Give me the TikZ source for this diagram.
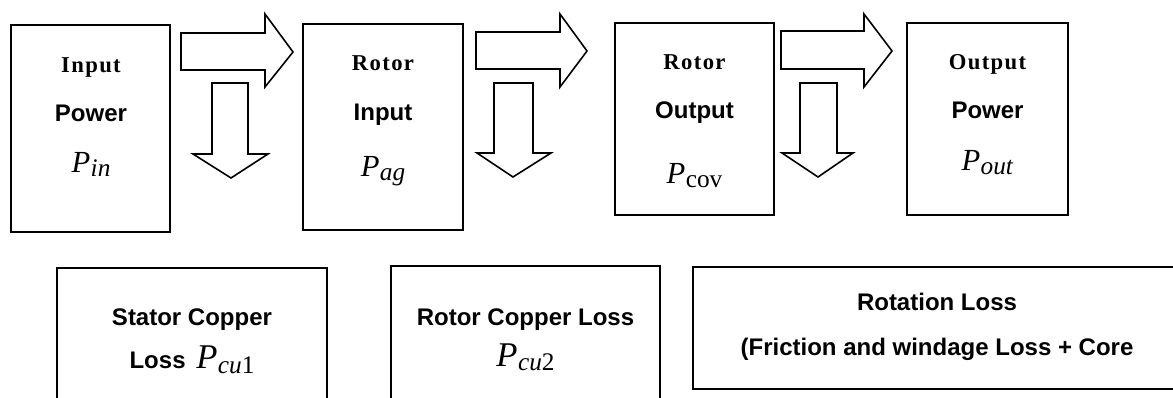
\documentclass[tikz,border=0pt]{standalone}
\usepackage{fontspec}
\setmainfont{Liberation Serif}
\newfontfamily\arialfont{Liberation Sans}
\newfontfamily\serifspaced[LetterSpace=6]{Liberation Serif}
\newlength\pxu
\setlength\pxu{0.75pt}
\newcommand\PP[1]{{\fontsize{23}{25}\selectfont\textit{P}}\kern0.3pt\raisebox{-0.3em}{\fontsize{19}{19}\selectfont #1}}
\newcommand\PPb[1]{{\fontsize{26}{28}\selectfont\textit{P}}\kern0.3pt\raisebox{-0.3em}{\fontsize{19}{19}\selectfont #1}}
\tikzset{
  box/.style={draw, line width=1.3pt, inner sep=0pt, rectangle},
  blockarrow/.style={draw, line width=1.2pt, fill=white, line join=miter},
  serifbold/.style={font=\serifspaced\fontsize{17}{20}\selectfont\bfseries, anchor=base, inner sep=0pt},
  sansbold/.style={font=\arialfont\fontsize{18}{21}\selectfont\bfseries, anchor=base, inner sep=0pt},
  mathlbl/.style={anchor=base, inner sep=0pt},
}
\begin{document}
\begin{tikzpicture}[x=0.75pt, y=-0.75pt]
\useasboundingbox (0,0) rectangle (1173,398);
\fill[white] (0,0) rectangle (1173,398);
% top boxes
\node[box, minimum width=159*\pxu, minimum height=207*\pxu] (b1) at (90.5,128.5) {};
\node[box, minimum width=160*\pxu, minimum height=206*\pxu] (b2) at (383,127) {};
\node[box, minimum width=159*\pxu, minimum height=192*\pxu] (b3) at (694.5,119) {};
\node[box, minimum width=161*\pxu, minimum height=192*\pxu] (b4) at (987.5,119) {};
% bottom boxes
\node[box, minimum width=270*\pxu, minimum height=160*\pxu] (b5) at (192,348) {};
\node[box, minimum width=269*\pxu, minimum height=160*\pxu] (b6) at (525.5,346) {};
\node[box, minimum width=488*\pxu, minimum height=122*\pxu] (b7) at (937,328) {};
% box texts
\node[serifbold] (t1a) at (91,73) {Input};
\node[sansbold] (t1b) at (91,122) {Power};
\node[mathlbl] (t1c) at (91,173) {\PP{\textit{in}}};
\node[serifbold] (t2a) at (383,71) {Rotor};
\node[sansbold] (t2b) at (383,121) {Input};
\node[mathlbl] (t2c) at (383,177) {\PP{\textit{ag}}};
\node[serifbold] (t3a) at (694.5,70) {Rotor};
\node[sansbold] (t3b) at (694.5,119) {Output};
\node[mathlbl] (t3c) at (694.5,184) {\PP{cov}};
\node[serifbold] (t4a) at (987.5,70) {Output};
\node[sansbold] (t4b) at (987.5,119) {Power};
\node[mathlbl] (t4c) at (987.5,171) {\PP{\textit{out}}};
\node[sansbold] (t5a) at (192,326) {Stator Copper};
\node[mathlbl] (t5b) at (192,369) {{\arialfont\fontsize{18}{21}\selectfont\bfseries Loss}\hspace{8pt}\PPb{\textit{cu}1}};
\node[sansbold] (t6a) at (525.5,326) {Rotor Copper Loss};
\node[mathlbl] (t6b) at (525.5,367) {\PPb{\textit{cu}2}};
\node[sansbold] (t7a) at (937,311) {Rotation Loss};
\node[sansbold] (t7b) at (937,356) {(Friction and windage Loss + Core};
% right block arrows
\draw[blockarrow] (181,33) -- (265,33) -- (265,14) -- (293,52) -- (265,87) -- (265,70) -- (181,70) -- cycle;
\draw[blockarrow] (476,32) -- (560,32) -- (560,14) -- (587,51) -- (560,87) -- (560,69) -- (476,69) -- cycle;
\draw[blockarrow] (781,31) -- (864,31) -- (864,14) -- (892,51) -- (864,87) -- (864,69) -- (781,69) -- cycle;
% down block arrows
\draw[blockarrow] (212,83) -- (248,83) -- (248,154) -- (268,154) -- (231,178) -- (193,154) -- (212,154) -- cycle;
\draw[blockarrow] (494,83) -- (533,83) -- (533,153) -- (551,153) -- (513,177) -- (477,153) -- (494,153) -- cycle;
\draw[blockarrow] (800,83) -- (837,83) -- (837,153) -- (853,153) -- (818,177) -- (782,153) -- (800,153) -- cycle;
\end{tikzpicture}
\end{document}
